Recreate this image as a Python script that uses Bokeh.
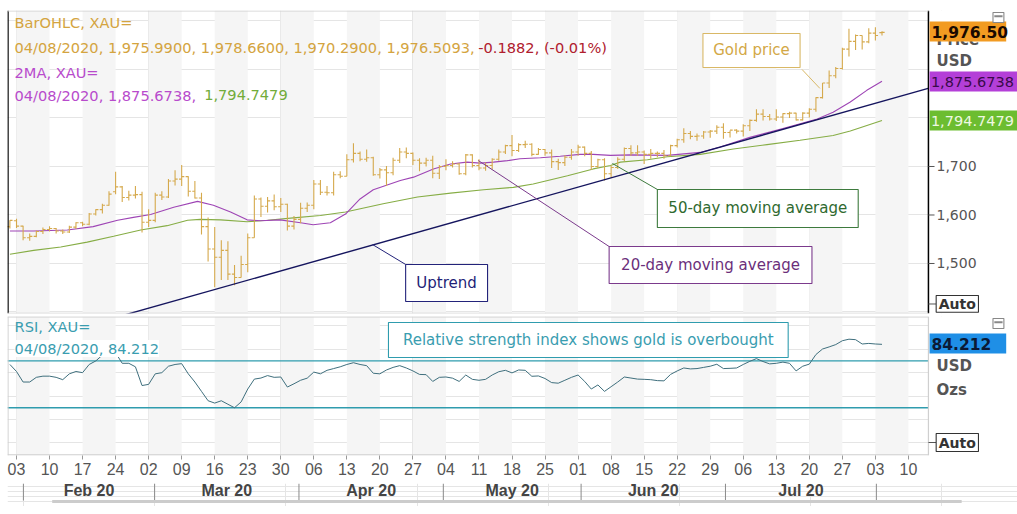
from bokeh.plotting import figure
from bokeh.layouts import column
from bokeh.models import Range1d, LinearAxis, FixedTicker, Label
from bokeh.core.properties import value
from bokeh.embed import file_html
from bokeh.resources import INLINE

FONT = "DejaVu Sans"
AXFONT = "Liberation Sans"

# ---------------- data (trading-day index, 0 = Mon 03 Feb 2020) ----------------
day_index = list(range(-1, 132))
opens = [1576, 1588, 1577, 1553, 1556, 1566, 1570, 1572, 1567, 1565, 1575, 1584, 1581, 1602, 1611, 1620,
         1648, 1658, 1636, 1641, 1642, 1585, 1589, 1641, 1637, 1670, 1674, 1679, 1649, 1635, 1576, 1530,
         1513, 1527, 1478, 1471, 1498, 1553, 1633, 1618, 1629, 1617, 1622, 1577, 1591, 1614, 1620, 1664,
         1647, 1646, 1683, 1680, 1714, 1727, 1715, 1718, 1683, 1693, 1687, 1713, 1730, 1727, 1713, 1707,
         1713, 1686, 1700, 1702, 1705, 1685, 1724, 1702, 1697, 1702, 1715, 1730, 1743, 1733, 1745, 1746,
         1725, 1735, 1728, 1710, 1708, 1719, 1730, 1740, 1727, 1700, 1714, 1685, 1698, 1715, 1737, 1728,
         1730, 1725, 1727, 1727, 1722, 1743, 1755, 1768, 1762, 1763, 1771, 1773, 1781, 1770, 1775, 1773,
         1784, 1795, 1808, 1803, 1798, 1802, 1809, 1810, 1796, 1810, 1818, 1842, 1872, 1887, 1902, 1942,
         1958, 1970, 1957, 1975, 1975.99]
highs = [1589, 1592, 1578, 1562, 1568, 1574, 1577, 1573, 1570, 1578, 1585, 1586, 1604, 1612, 1623, 1649,
         1689, 1660, 1650, 1660, 1648, 1612, 1646, 1649, 1674, 1692, 1703, 1680, 1670, 1646, 1595, 1575,
         1548, 1546, 1497, 1516, 1562, 1640, 1636, 1637, 1642, 1635, 1623, 1598, 1625, 1626, 1672, 1672,
         1660, 1689, 1690, 1725, 1748, 1731, 1735, 1720, 1697, 1701, 1718, 1738, 1739, 1729, 1717, 1718,
         1722, 1703, 1715, 1711, 1707, 1726, 1725, 1715, 1708, 1717, 1735, 1745, 1765, 1748, 1753, 1748,
         1738, 1736, 1735, 1716, 1723, 1736, 1745, 1741, 1732, 1716, 1717, 1702, 1719, 1739, 1744, 1744,
         1733, 1736, 1731, 1734, 1745, 1757, 1779, 1773, 1768, 1773, 1775, 1785, 1789, 1774, 1777, 1787,
         1797, 1818, 1818, 1808, 1818, 1810, 1813, 1811, 1812, 1820, 1843, 1872, 1898, 1905, 1945, 1984,
         1972, 1970, 1985, 1987, 1978.66]
lows = [1572, 1573, 1548, 1547, 1554, 1561, 1566, 1562, 1561, 1563, 1571, 1577, 1579, 1599, 1603, 1619,
        1643, 1627, 1630, 1634, 1564, 1575, 1585, 1631, 1635, 1661, 1660, 1638, 1634, 1560, 1504, 1451,
        1466, 1466, 1455, 1471, 1482, 1553, 1596, 1605, 1610, 1606, 1568, 1570, 1583, 1606, 1612, 1641,
        1640, 1640, 1676, 1680, 1708, 1711, 1710, 1681, 1675, 1660, 1682, 1707, 1717, 1703, 1690, 1700,
        1676, 1674, 1692, 1698, 1683, 1682, 1698, 1692, 1691, 1694, 1712, 1726, 1721, 1730, 1738, 1721,
        1724, 1722, 1697, 1693, 1701, 1714, 1722, 1721, 1693, 1697, 1671, 1677, 1695, 1711, 1722, 1722,
        1705, 1716, 1719, 1716, 1721, 1739, 1749, 1756, 1753, 1757, 1759, 1767, 1757, 1760, 1768, 1762,
        1773, 1792, 1795, 1795, 1794, 1790, 1800, 1795, 1795, 1801, 1813, 1840, 1862, 1882, 1900, 1927,
        1940, 1941, 1954, 1960, 1970.29]
closes = [1589, 1577, 1553, 1556, 1566, 1570, 1572, 1567, 1565, 1575, 1584, 1581, 1602, 1611, 1620, 1643,
          1658, 1636, 1641, 1642, 1585, 1589, 1641, 1637, 1670, 1674, 1679, 1649, 1635, 1576, 1530, 1513,
          1527, 1478, 1471, 1498, 1553, 1633, 1618, 1629, 1617, 1622, 1577, 1591, 1614, 1620, 1664, 1647,
          1646, 1683, 1680, 1714, 1727, 1715, 1718, 1683, 1693, 1687, 1713, 1730, 1727, 1713, 1707, 1713,
          1686, 1700, 1702, 1705, 1685, 1724, 1702, 1697, 1702, 1715, 1730, 1743, 1733, 1745, 1746, 1725,
          1735, 1728, 1710, 1708, 1719, 1730, 1740, 1727, 1700, 1714, 1685, 1698, 1715, 1737, 1728, 1730,
          1725, 1727, 1727, 1722, 1743, 1755, 1768, 1762, 1763, 1771, 1773, 1781, 1770, 1775, 1773, 1784,
          1795, 1808, 1803, 1798, 1802, 1809, 1810, 1796, 1810, 1818, 1842, 1872, 1887, 1902, 1942, 1958,
          1970, 1957, 1975, 1970, 1976.51]
rsi_values = [67, 61, 52, 52, 56, 57, 57, 56, 54, 59, 61, 60, 67, 70, 75, 78, 77, 68, 68, 65, 49, 50,
              59, 60, 65.5, 67, 67.7, 59, 52, 44, 36, 34, 36, 33, 30, 35, 46, 54.5, 55.4, 57.5, 56, 56.3,
              47.7, 50.5, 53.5, 55.3, 60.5, 59, 62, 63.5, 65, 67, 68.5, 67, 66, 59.5, 59, 62.3, 64.5, 66,
              64, 61.5, 58.5, 58.3, 52.5, 56, 56.3, 55.3, 52.5, 58, 54.3, 53.5, 54.3, 58, 60.8, 62, 59.8,
              62.3, 62, 56.9, 57.2, 55, 51.5, 51, 53.5, 56, 58, 52.5, 46, 49.5, 44, 48, 52, 56.3, 55.4,
              54.5, 54.3, 54, 53.2, 53, 58.5, 61.5, 64, 63.2, 63.5, 64.5, 65.5, 67.2, 63.5, 63.7, 64, 67,
              69.7, 72, 69.5, 67.5, 68, 69, 68, 61.5, 65.5, 67.3, 75.5, 80.2, 82, 84, 87.3, 88.6, 88.2,
              84.5, 85, 84.5, 84.212]
assert len(opens) == len(highs) == len(lows) == len(closes) == len(rsi_values) == len(day_index)

ma20_idx = [-1, 2.6, 7.7, 11.6, 15.3, 17.7, 20.3, 23.8, 27.4, 29.8, 32.4, 34.9, 36.9, 39.9, 43.0, 44.9,
            47.5, 49.8, 52.0, 54.0, 58.1, 60.1, 63.1, 65.7, 68.2, 70.2, 72.2, 74.3, 76.2, 79.3, 82.3, 85.3,
            87.3, 89.9, 92.9, 98.5, 103.5, 106.5, 111.0, 116.0, 121.2, 123.6, 126.2, 128.7, 131]
ma20_values = [1567, 1567, 1569, 1576, 1589, 1595, 1601, 1616, 1628, 1620, 1606, 1590, 1588, 1590, 1584,
               1580, 1584, 1602, 1633, 1652, 1671, 1678, 1695, 1705, 1709, 1707, 1709, 1712, 1716, 1718,
               1721, 1725, 1725, 1723, 1724, 1723, 1729, 1740, 1760, 1778, 1798, 1812, 1833, 1857, 1875.67]
ma50_idx = [-1, 2.6, 6.7, 10.7, 14.7, 18.8, 22.8, 25.9, 27.8, 30.9, 34.9, 38.0, 41.9, 46.0, 49.8, 55.5,
            60.7, 65.7, 70.7, 75.2, 78.2, 83.4, 87.3, 89.9, 91.4, 95.5, 98.5, 103.5, 108.5, 113.6, 118.6,
            123.6, 126.2, 131]
ma50_values = [1519, 1527, 1534, 1544, 1556, 1569, 1578, 1589, 1591, 1590, 1586, 1589, 1594, 1599, 1606,
               1623, 1637, 1645, 1652, 1657, 1664, 1681, 1695, 1702, 1709, 1714, 1720, 1725, 1736, 1745,
               1754, 1764, 1773, 1794.75]
trend_idx = [10, 140]
trend_values = [1369.5, 1868.7]

rsi_levels = [70, 30]
price_ticks = [1500, 1600, 1700]
price_tick_labels = ["1,500", "1,600", "1,700"]

week_tick_idx = [0, 5, 10, 15, 20, 25, 30, 35, 40, 45, 50, 55, 60, 65, 70, 75, 80, 85, 90, 95, 100,
                 105, 110, 115, 120, 125, 130, 135]
week_labels = ["03", "10", "17", "24", "02", "09", "16", "23", "30", "06", "13", "20", "27", "04",
               "11", "18", "25", "01", "08", "15", "22", "29", "06", "13", "20", "27", "03", "10"]
month_labels = ["Feb 20", "Mar 20", "Apr 20", "May 20", "Jun 20", "Jul 20"]
month_start_idx = [0, 20, 42, 64, 85, 107, 130]

legend_ohlc = "04/08/2020, 1,975.9900, 1,978.6600, 1,970.2900, 1,976.5093, "
legend_change = "-0.1882, (-0.01%)"
last_price_text = "1,976.50"
ma20_last_text = "1,875.6738"
ma50_last_text = "1,794.7479"
rsi_last_text = "84.212"

# ---------------- styling / geometry ----------------
GOLD = "#d5a94c"
PURPLE_LINE = "#9e45b5"
GREEN_LINE = "#86ad45"
NAVY = "#15155e"
TEAL = "#2f9cae"
STRIPE = "#f5f5f5"
GRID = "#cfcfcf"
LEG_SIZE = "14.6px"

X0, X1 = -1.362, 151.51      # frame spans the whole page width
PANEL_END = 138.03           # right edge of the plotting panels
XT = 139.25                  # right-axis text start
P_LO, P_HI = 1396.9, 2021.6
R_LO, R_HI = -10.8, 108.0

x_range = Range1d(X0, X1)

def base_fig(height, y_range, top, bottom):
    f = figure(width=1017, height=height, x_range=x_range, y_range=y_range,
               output_backend="svg", toolbar_location=None,
               x_axis_location=None, y_axis_location=None,
               min_border_left=7, min_border_right=0, min_border_top=top, min_border_bottom=bottom)
    f.outline_line_color = None
    f.background_fill_color = "white"
    f.border_fill_color = "white"
    return f

def stripes(f, lo, hi):
    starts = week_tick_idx[::2]
    f.quad(left=starts, right=[s + 5 for s in starts], bottom=lo, top=hi,
           fill_color=STRIPE, line_color=None)

def lab(f, x, y, text, color, size=LEG_SIZE, bold=False, bg=None):
    f.add_layout(Label(x=x, y=y, text=text, text_color=color, text_font=FONT, text_font_size=size,
                       text_font_style="bold" if bold else "normal", text_baseline="middle",
                       text_align="left", background_fill_color=bg))

def txt(f, x, y, text, color, size="15px", bold=False, align="left", font=FONT):
    f.text(x=[x], y=[y], text=[text], text_color=color, text_font=value(font), text_font_size=size,
           text_font_style="bold" if bold else "normal", text_baseline="middle", text_align=align)

def badge(f, l, r_, b, t, color):
    f.quad(left=[l], right=[r_], bottom=[b], top=[t], fill_color=color, line_color=None)

def box(f, l, r_, b, t, border):
    f.quad(left=[l], right=[r_], bottom=[b], top=[t], fill_color="white", line_color=border,
           line_width=1.1)

def icon(f, yb, yt):
    box(f, 147.8, 149.45, yb, yt, "#888888")
    f.segment(x0=[148.0], y0=[yb + (yt - yb) * 0.62], x1=[149.25], y1=[yb + (yt - yb) * 0.62],
              line_color="#888888", line_width=2)

# ---------------- price panel ----------------
p = base_fig(314, Range1d(P_LO, P_HI), 10, 1)
stripes(p, P_LO, P_HI)

p.line(ma50_idx, ma50_values, line_color=GREEN_LINE, line_width=1.1)
p.line(ma20_idx, ma20_values, line_color=PURPLE_LINE, line_width=1.1)
p.segment(x0=day_index, y0=lows, x1=day_index, y1=highs, line_color=GOLD, line_width=1.1)
p.segment(x0=[d - 0.4 for d in day_index], y0=opens, x1=day_index, y1=opens, line_color=GOLD, line_width=1.1)
p.segment(x0=day_index, y0=closes, x1=[d + 0.4 for d in day_index], y1=closes, line_color=GOLD, line_width=1.1)
p.line(trend_idx, trend_values, line_color=NAVY, line_width=1.4)

# callouts: (left, right, bottom, top, text, border, text colour, leader x, leader y)
callouts = [
    (103.9, 118.6, 1904.1, 1974.2, "Gold price", "#d9b866", "#d3a846", [118.9, 121.6], [1900, 1861]),
    (97.0, 127.4, 1574.2, 1652.6, "50-day moving average", "#3d7a3d", "#2f6a2f", [97.0, 90.2], [1652.6, 1706.2]),
    (89.7, 120.4, 1458.7, 1535.0, "20-day moving average", "#7b3a8c", "#6b2f7b", [89.7, 69.9], [1535.0, 1712.3]),
    (58.9, 71.3, 1421.6, 1498.0, "Uptrend", "#23237a", "#1f1f78", [58.9, 53.9], [1498.0, 1539.0]),
]
for l, r_, b, t, tx, bc, tc, lx, ly in callouts:
    p.line(lx, ly, line_color=bc, line_width=1)
    box(p, l, r_, b, t, bc)
    txt(p, (l + r_) / 2, (b + t) / 2, tx, tc, align="center")

# right-hand area (value scale)
badge(p, PANEL_END, X1, P_LO, P_HI, "white")
p.segment(x0=[-1.29, PANEL_END], y0=[P_LO, P_LO], x1=[-1.29, PANEL_END], y1=[P_HI, P_HI],
          line_color="black", line_width=1.5)
p.segment(x0=[X0, X0], y0=[2020.6, 1397.4], x1=[PANEL_END, PANEL_END], y1=[2020.6, 1397.4],
          line_color=GRID, line_width=1)
p.segment(x0=[PANEL_END] * 3, y0=price_ticks, x1=[138.95] * 3, y1=price_ticks,
          line_color="#555555", line_width=1)
for v, t in zip(price_ticks, price_tick_labels):
    txt(p, XT, v, t, "#555555", size="14px")

txt(p, XT, 1961.8, "Price", "#555555", size="15px", bold=True)
badge(p, 138.2, 149.8, 1957.7, 1998.9, "#f29b22")
txt(p, 138.5, 1978.3, last_price_text, "#1a0a00", size="15.5px", bold=True)
txt(p, XT, 1916.5, "USD", "#555555", size="15px", bold=True)
badge(p, 138.2, X1, 1854.6, 1895.8, "#b43fd8")
txt(p, 138.4, 1875.2, ma20_last_text, "#3a0a4a", size="14.5px")
badge(p, 138.2, X1, 1774.2, 1815.4, "#6cbd30")
txt(p, 138.4, 1794.8, ma50_last_text, "#eef8e2", size="14.5px")
p.segment(x0=[PANEL_END], y0=[1416.5], x1=[139.2], y1=[1416.5], line_color="#555555")
box(p, 139.2, 145.6, 1399.5, 1434.0, "#333333")
txt(p, 142.4, 1416.5, "Auto", "#333333", size="14px", bold=True, align="center")
icon(p, 1996.9, 2017.5)

# legend texts (top-left)
lab(p, -0.3, 1996.9, "BarOHLC, XAU=", "#d4a440")
lab(p, -0.3, 1945.4, legend_ohlc, "#d4a440")
lab(p, 69.9, 1945.4, legend_change, "#b0202e")
lab(p, -0.3, 1893.8, "2MA, XAU=", "#b84bcc")
lab(p, -0.3, 1846.4, "04/08/2020, 1,875.6738, ", "#b84bcc")
lab(p, 28.4, 1846.4, "1,794.7479", "#72ac3a")

# ---------------- RSI panel ----------------
r = base_fig(169, Range1d(R_LO, R_HI), 2, 28)
stripes(r, R_LO, R_HI)
r.segment(x0=[X0, X0], y0=rsi_levels, x1=[PANEL_END, PANEL_END], y1=rsi_levels,
          line_color=TEAL, line_width=1.3)
r.line(day_index, rsi_values, line_color="#3f6f7d", line_width=1)

box(r, 56.3, 116.8, 73.0, 102.9, TEAL)
txt(r, 86.55, 87.9, "Relative strength index shows gold is overbought", "#3a9db0", align="center")

lab(r, -0.3, 99.4, "RSI, XAU=", "#3a9db0")
lab(r, -0.3, 80.6, "04/08/2020, 84.212", "#3a9db0", bg="white")

badge(r, PANEL_END, X1, R_LO, R_HI, "white")
r.segment(x0=[-1.29, PANEL_END], y0=[R_LO, R_LO], x1=[-1.29, PANEL_END], y1=[R_HI, R_HI],
          line_color=GRID, line_width=1.2)
r.segment(x0=[X0, X0], y0=[107.6, -10.3], x1=[PANEL_END, PANEL_END], y1=[107.6, -10.3],
          line_color=GRID, line_width=1.2)
badge(r, 138.2, 149.8, 76.4, 93.5, "#1f8fe6")
txt(r, 138.5, 84.9, rsi_last_text, "#0b1a35", size="15.5px", bold=True)
txt(r, XT, 65.3, "USD", "#555555", size="15px", bold=True)
txt(r, XT, 45.6, "Ozs", "#555555", size="15px", bold=True)
r.segment(x0=[PANEL_END], y0=[0.3], x1=[139.2], y1=[0.3], line_color="#555555")
box(r, 139.2, 145.6, -7.4, 8.0, "#333333")
txt(r, 142.4, 0.3, "Auto", "#333333", size="14px", bold=True, align="center")
icon(r, 97.7, 106.3)

xa = LinearAxis(ticker=FixedTicker(ticks=week_tick_idx, minor_ticks=[]),
                major_label_overrides={t: l for t, l in zip(week_tick_idx, week_labels)},
                axis_line_color=None, major_tick_line_color="#999999",
                major_tick_out=4, major_tick_in=0, minor_tick_line_color=None,
                major_label_text_font=AXFONT, major_label_text_font_size="16px",
                major_label_text_color="#555555", major_label_standoff=3)
r.add_layout(xa, "below")

# ---------------- month row ----------------
m = figure(width=1017, height=23, x_range=Range1d(-2.422, X1), y_range=Range1d(0, 23),
           output_backend="svg", toolbar_location=None, x_axis_location=None, y_axis_location=None,
           min_border=0)
m.outline_line_color = None
m.border_fill_color = "white"
m.background_fill_color = "white"
m.segment(x0=month_start_idx, y0=6, x1=month_start_idx, y1=23, line_color="#8a8a8a", line_width=1)
month_mid = [(a + b) / 2 for a, b in zip(month_start_idx[:-1], month_start_idx[1:])]
m.text(x=month_mid, y=16, text=month_labels, text_align="center", text_baseline="middle",
       text_font=value(AXFONT), text_font_size="16px", text_font_style="bold", text_color="#444444")
m.segment(x0=[4.39], y0=[5], x1=[143.0], y1=[5], line_color="#cccccc", line_width=3)

layout = column(p, r, m)
open("out.html", "w").write(file_html(layout, INLINE))
